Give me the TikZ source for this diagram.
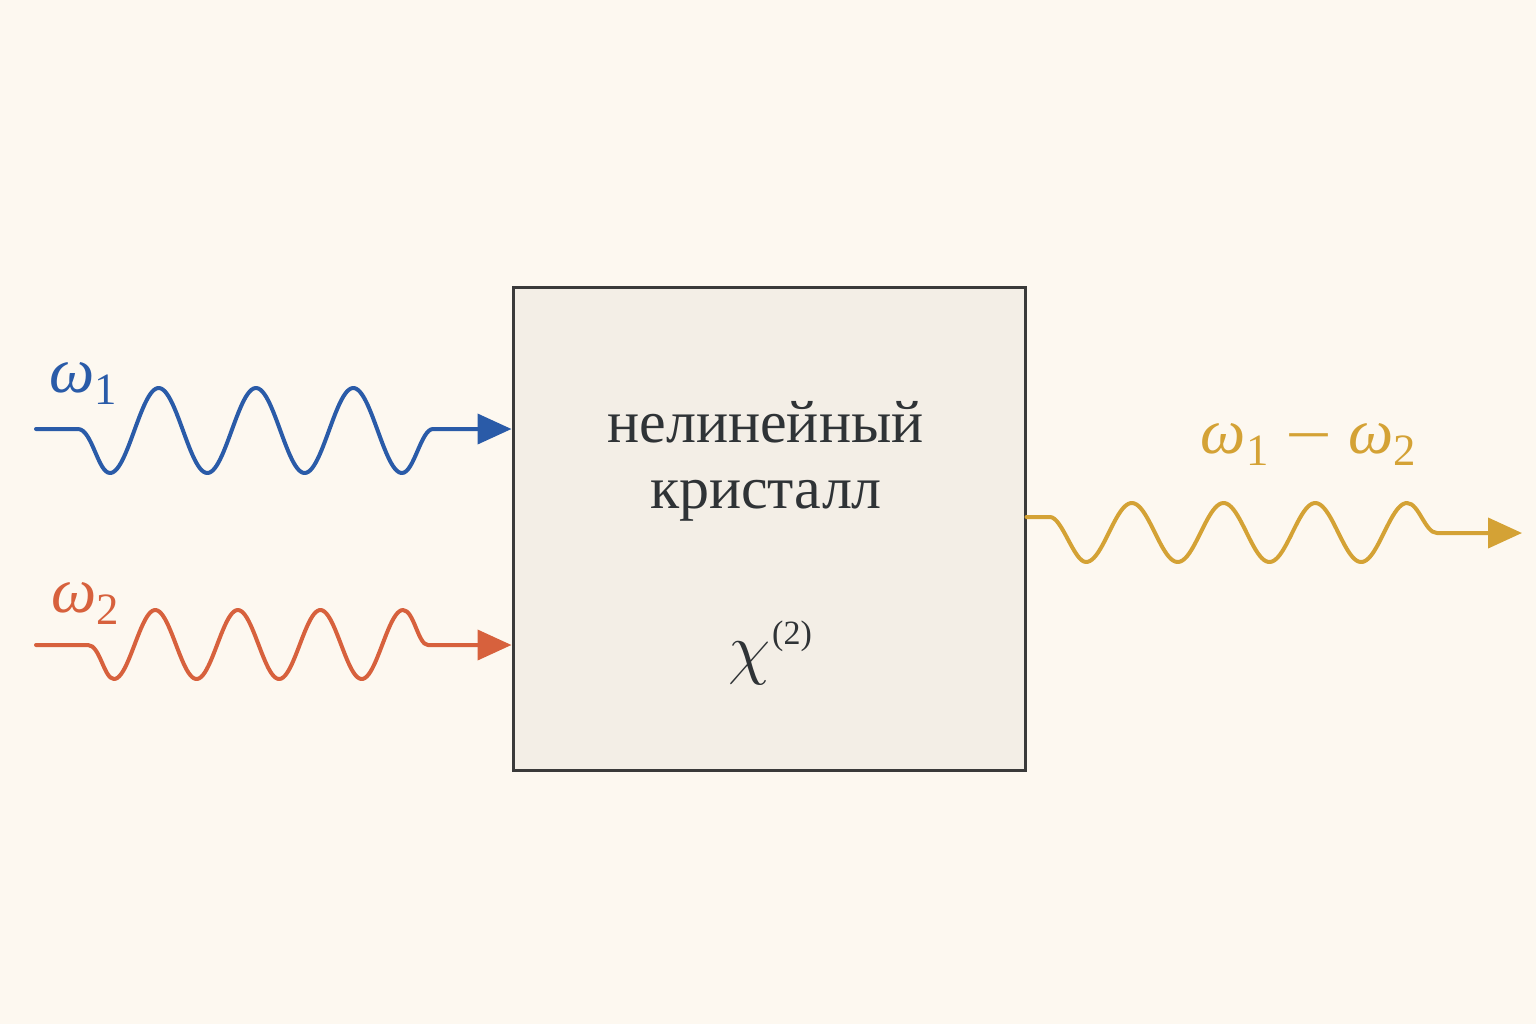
\documentclass[tikz,border=0pt]{standalone}
\usepackage{fontspec}
\setmainfont{Liberation Serif}
\usetikzlibrary{arrows.meta}
\definecolor{bgc}{HTML}{FDF8F0}
\definecolor{boxfill}{HTML}{F3EEE6}
\definecolor{boxline}{HTML}{3A3A3A}
\definecolor{textc}{HTML}{2F3336}
\definecolor{wblue}{HTML}{2A5BA8}
\definecolor{wred}{HTML}{D7613D}
\definecolor{wgold}{HTML}{D4A235}
\newcommand\gkw[1]{{\itshape ω}\textsubscript{#1}}
\begin{document}
\begin{tikzpicture}[x=0.5pt,y=-0.5pt,
  wave/.style={line width=2pt, line join=round, line cap=round, -{Triangle[length=17pt,width=15pt]}},
  txt/.style={text=textc, font=\fontsize{30}{33}\selectfont, anchor=base, inner sep=0pt},
  lab/.style={font=\fontsize{32}{36}\selectfont, anchor=base, inner sep=0pt}]
\fill[bgc] (0,0) rectangle (1536,1024);
\useasboundingbox (0,0) rectangle (1536,1024);
% crystal
\node[draw=boxline, fill=boxfill, line width=1.5pt, minimum width=256pt, minimum height=241.5pt, inner sep=0pt] (box) at (769,528.5) {};
\node[txt] (l1) at (765.5,442) {нелинейный};
\node[txt] (l2) at (766,508) {кристалл};
\node[text=textc, anchor=base, inner sep=0pt] (chi) at (770,671) {{\fontsize{24.88}{30}\selectfont\scalebox{1.38}{$\chi$}}\kern1pt\raisebox{13.5pt}{\fontsize{17}{20}\selectfont(2)}};
% input 1
\coordinate (s1) at (36,429);
\draw[wave, wblue] (s1) -- (78,429) .. controls (92,429) and (98,473) .. (110,473)
  -- plot[domain=110:402,samples=160] (\x,{430.5+42.5*cos(3.69876*(\x-110))})
  .. controls (414,473) and (421,429) .. (433,429) -- (box.west |- s1);
% input 2
\coordinate (s2) at (36,645);
\draw[wave, wred] (s2) -- (88,645) .. controls (100,645) and (104,679) .. (114,679)
  -- plot[domain=114:403,samples=160] (\x,{644.5+34.5*cos(4.35986*(\x-114))})
  .. controls (414,610) and (418,645) .. (428,645) -- (box.west |- s2);
% output
\coordinate (gy) at (1100,517);
\coordinate (e3) at (1522,533);
\draw[wave, wgold] (box.east |- gy) -- (1050,517) .. controls (1062,517) and (1074,562) .. (1086,562)
  -- plot[domain=1086:1407,samples=160] (\x,{532.5+29.5*cos(3.92523*(\x-1086))})
  .. controls (1419,503) and (1425,533) .. (1437,533) -- (e3);
% labels
\node[lab, text=wblue] (w1) at (84,392) {\gkw{1}};
\node[lab, text=wred] (w2) at (86,612) {\gkw{2}};
\node[lab, text=wgold] (w3) at (1309,453) {\gkw{1}\hspace{0.25em}\raisebox{-1.5pt}{\scalebox{1.3}[1]{−}}\hspace{0.25em}\gkw{2}};
\end{tikzpicture}
\end{document}
